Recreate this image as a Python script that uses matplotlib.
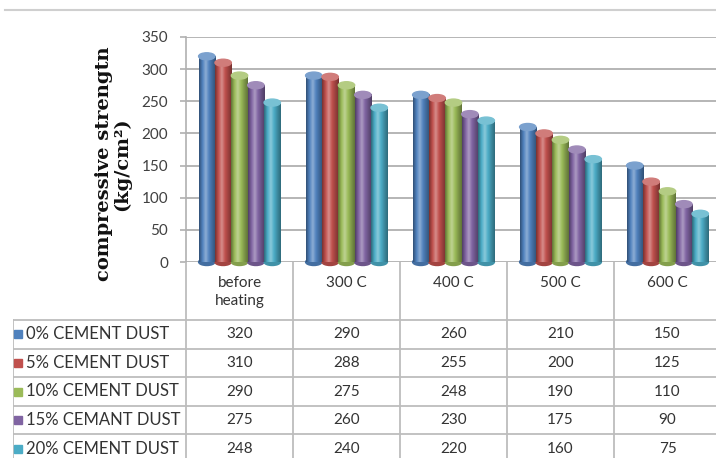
import matplotlib.pyplot as plt
import numpy as np
from matplotlib.colors import LinearSegmentedColormap, to_rgb
from matplotlib.patches import Ellipse
from matplotlib.lines import Line2D

# data
categories = ['before\nheating', '300 C', '400 C', '500 C', '600 C']
series_names = ['0% CEMENT DUST', '5% CEMENT DUST', '10% CEMENT DUST',
                '15% CEMANT DUST', '20% CEMENT DUST']
dust_0 = [320, 290, 260, 210, 150]
dust_5 = [310, 288, 255, 200, 125]
dust_10 = [290, 275, 248, 190, 110]
dust_15 = [275, 260, 230, 175, 90]
dust_20 = [248, 240, 220, 160, 75]
y_ticks = [0, 50, 100, 150, 200, 250, 300, 350]

series_values = [dust_0, dust_5, dust_10, dust_15, dust_20]
colors = ['#4F81BD', '#C0504D', '#9BBB59', '#8064A2', '#4BACC6']

W, H = 716, 458
plt.rcParams['font.family'] = ['Lato', 'DejaVu Sans']

fig = plt.figure(figsize=(W / 100, H / 100), dpi=100)


def px_box(left, top, right, bottom):
    return [left / W, 1 - bottom / H, (right - left) / W, (bottom - top) / H]


def shade(c):
    r = np.array(to_rgb(c))
    dark = r * 0.62
    light = r + (1 - r) * 0.35
    return LinearSegmentedColormap.from_list(
        'cyl', [dark, r, light, r, r * 0.8, dark])


# ---- chart ----
ax = fig.add_axes(px_box(186, 37, 721, 262))
x = np.arange(len(categories))
bw = 0.153
grad = np.linspace(0, 1, 64).reshape(1, -1)
cap_h = 7 * 350 / 225  # ellipse height in data units

for j, (vals, col) in enumerate(zip(series_values, colors)):
    bars = ax.bar(x + (j - 2) * bw, vals, bw, color=col, zorder=3)
    for b in bars:
        x0, w, h = b.get_x(), b.get_width(), b.get_height()
        ax.imshow(grad, cmap=shade(col), extent=(x0, x0 + w, 0, h),
                  aspect='auto', zorder=4, interpolation='bilinear')
        r = np.array(to_rgb(col))
        ax.add_patch(Ellipse((x0 + w / 2, h), w, cap_h,
                             color=r + (1 - r) * 0.25, zorder=5))
        ax.add_patch(Ellipse((x0 + w / 2, 0), w, cap_h,
                             color=r * 0.85, zorder=2, clip_on=False))

ax.set_xlim(-0.5, len(categories) - 0.5)
ax.set_ylim(0, 350)
ax.set_yticks(y_ticks)
ax.set_xticks([])
ax.yaxis.grid(True, color='#B0B0B0', lw=1.3, zorder=0)
ax.tick_params(axis='y', length=4, color='#B0B0B0', width=1.2,
               labelsize=11, labelcolor='#404040', pad=9)
for s in ['right', 'top', 'bottom']:
    ax.spines[s].set_visible(False)
ax.spines['left'].set_color('#B0B0B0')
ax.spines['left'].set_linewidth(1.2)

fig.text(113 / W, 1 - 164 / H, 'compressive strengtn\n(kg/cm\u00b2)',
         rotation=90, ha='center', va='center', multialignment='center',
         family='DejaVu Serif', weight='bold', fontsize=14,
         linespacing=0.95, color='#111111')

# ---- data table ----
row_px = 28.6
head = (320 - 262) / row_px
n = len(series_names)
tab = fig.add_axes(px_box(13, 262, 721, 262 + (head + n) * row_px))
left_edge = -0.5 - (186 - 13) / 107
tab.set_xlim(left_edge, len(categories) - 0.5)
tab.set_ylim(head + n, 0)
tab.axis('off')

lc, lw = '#BDBDBD', 1.3
for k in range(len(categories) + 1):
    tab.plot([k - 0.5, k - 0.5], [0, head + n], color=lc, lw=lw)
tab.plot([left_edge, left_edge], [head, head + n], color=lc, lw=lw)
for r in range(n + 1):
    tab.plot([left_edge, len(categories) - 0.5], [head + r, head + r],
             color=lc, lw=lw)

for i, cat in enumerate(categories):
    tab.text(i, 0.5, cat, ha='center', va='top', fontsize=11,
             color='#333333', linespacing=1.35)
    for r, vals in enumerate(series_values):
        tab.text(i, head + r + 0.5, str(vals[i]), ha='center', va='center',
                 fontsize=11, color='#333333')

for r, (name, col) in enumerate(zip(series_names, colors)):
    tab.plot(left_edge + 0.05, head + r + 0.5, 's', color=col, ms=6)
    tab.text(left_edge + 0.12, head + r + 0.5, name, ha='left', va='center',
             fontsize=12, color='#333333')

# thin rule at the top of the picture
fig.add_artist(Line2D([5 / W, 1], [1 - 10 / H, 1 - 10 / H],
                      color='#CFCFCF', lw=1.5))

fig.savefig('out.png', dpi=100)
